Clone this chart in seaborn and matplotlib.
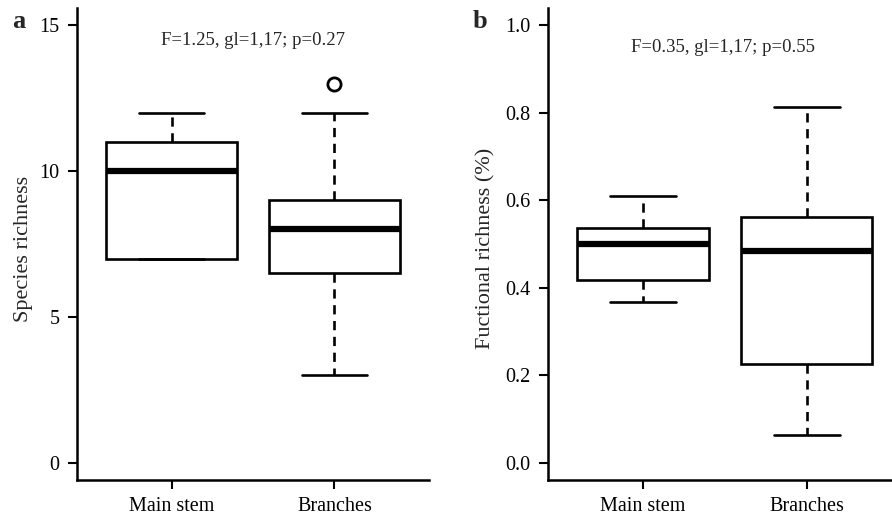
import pandas as pd
import matplotlib
matplotlib.use("Agg")
import matplotlib.pyplot as plt
import seaborn as sns

# Observaciones (cuantiles ajustados a las cajas)
groups = ["Main stem", "Branches"]
species_main = [7, 7, 10, 11, 12]
species_branches = [3, 5, 6, 6, 8, 8, 8, 8, 8, 9, 9, 11, 12, 13]
func_main = [0.367, 0.417, 0.50, 0.537, 0.61]
func_branches = [0.064, 0.12, 0.18, 0.226, 0.226, 0.31, 0.47, 0.50,
                 0.52, 0.561, 0.561, 0.64, 0.72, 0.814]

stats_a = "F=1.25, gl=1,17; p=0.27"
stats_b = "F=0.35, gl=1,17; p=0.55"
yticks_a = [0, 5, 10, 15]
yticks_b = [0.0, 0.2, 0.4, 0.6, 0.8, 1.0]

df_a = pd.DataFrame({
    "group": [groups[0]] * len(species_main) + [groups[1]] * len(species_branches),
    "value": species_main + species_branches,
})
df_b = pd.DataFrame({
    "group": [groups[0]] * len(func_main) + [groups[1]] * len(func_branches),
    "value": func_main + func_branches,
})

sns.set_style("ticks")
plt.rcParams["font.family"] = ["Liberation Serif", "DejaVu Serif"]

fig = plt.figure(figsize=(8.92, 5.19), dpi=100)
ax_a = fig.add_axes([77 / 892, 1 - 480 / 519, 352 / 892, 472 / 519])
ax_b = fig.add_axes([548 / 892, 1 - 480 / 519, 344 / 892, 472 / 519])

lw = 1.9
box_kws = dict(
    x="group", y="value", order=groups, width=0.8, color="white",
    linecolor="black", linewidth=lw, whis=1.5,
    boxprops=dict(facecolor="white", edgecolor="black", linewidth=lw),
    medianprops=dict(color="black", linewidth=4.5, solid_capstyle="butt"),
    whiskerprops=dict(color="black", linewidth=lw, linestyle=(0, (3.5, 2.5))),
    capprops=dict(color="black", linewidth=lw),
    flierprops=dict(marker="o", markersize=9.5, markerfacecolor="none",
                    markeredgecolor="black", markeredgewidth=2),
)

sns.boxplot(data=df_a, ax=ax_a, **box_kws)
sns.boxplot(data=df_b, ax=ax_b, **box_kws)

for ax, ticks, lim, xr, label, lab_x in [
    (ax_a, yticks_a, (-0.6, 15.6), 1.58, "Species richness", -0.125),
    (ax_b, yticks_b, (-0.04, 1.04), 1.52, "Fuctional richness (%)", -0.152),
]:
    ax.set_ylim(*lim)
    ax.set_xlim(-0.58, xr)
    ax.set_yticks(ticks)
    ax.set_xlabel("")
    ax.set_ylabel(label, fontsize=16)
    ax.yaxis.set_label_coords(lab_x, 0.49)
    ax.tick_params(axis="both", direction="out", length=6.5, width=1.5,
                   labelsize=14.5, pad=6, colors="black")
    for side in ["top", "right"]:
        ax.spines[side].set_visible(False)
    for side in ["left", "bottom"]:
        ax.spines[side].set_linewidth(1.8)
        ax.spines[side].set_color("black")

ax_a.set_yticklabels([str(t) for t in yticks_a])
ax_b.set_yticklabels([f"{t:.1f}" for t in yticks_b])

ax_a.text(0.5, 14.48, stats_a, ha="center", va="center", fontsize=13.5)
ax_b.text(0.49, 0.95, stats_b, ha="center", va="center", fontsize=13.5)

fig.text(19 / 892, 1 - 28 / 519, "a", fontsize=19, fontweight="bold",
         ha="center", va="baseline")
fig.text(480 / 892, 1 - 28 / 519, "b", fontsize=19, fontweight="bold",
         ha="center", va="baseline")

fig.savefig("out.png", dpi=100)
